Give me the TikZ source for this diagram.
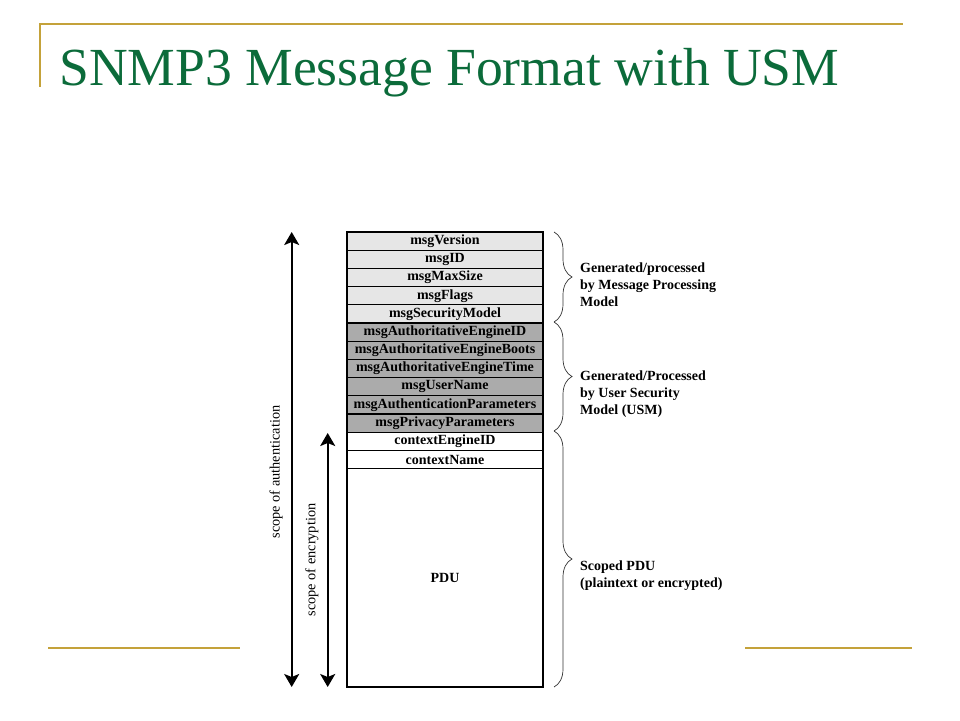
\documentclass[tikz,border=0pt]{standalone}
\usepackage{fontspec}
\setmainfont{Liberation Serif}
\usetikzlibrary{arrows.meta,decorations.pathreplacing}
\definecolor{gold}{HTML}{C4A23A}
\definecolor{titlegreen}{HTML}{0B6B3A}
\definecolor{lightg}{HTML}{E6E6E6}
\definecolor{darkg}{HTML}{ABABAB}
\tikzset{
  rowbox/.style={draw, line width=1.3pt, minimum width=196pt, minimum height=18.2pt, inner sep=0pt, outer sep=0pt, anchor=north, font=\bfseries\fontsize{14}{14}\selectfont},
  goldline/.style={draw=gold, line width=2pt},
  scopearrow/.style={line width=2pt, {Stealth[length=13pt,width=15pt,inset=3pt]}-{Stealth[length=13pt,width=15pt,inset=3pt]}},
  bracestyle/.style={decorate, decoration={brace, amplitude=18pt}, line width=0.7pt, draw=black!80},
  sidetext/.style={anchor=west, inner sep=0pt, align=left, font=\bfseries\fontsize{14}{17}\selectfont},
  scopetext/.style={rotate=90, inner sep=0pt, font=\fontsize{14.3}{14.3}\selectfont}
}
\begin{document}
\begin{tikzpicture}[x=1pt, y=-1pt]
\useasboundingbox (0,0) rectangle (960,720);
% decoration lines
\draw[goldline] (39.5,24) -- (903,24);
\draw[goldline] (39.5,23) -- (39.5,87);
\draw[goldline] (48,648) -- (240,648);
\draw[goldline] (745,648) -- (912,648);
% title
\node[anchor=base west, inner sep=0pt, text=titlegreen, font=\fontsize{53.6}{54}\selectfont] (title) at (59,85) {SNMP3 Message Format with USM};
% rows
\node[rowbox, fill=lightg] (r1) at (445,232) {msgVersion};
\node[rowbox, fill=lightg] (r2) at (r1.south) {msgID};
\node[rowbox, fill=lightg] (r3) at (r2.south) {msgMaxSize};
\node[rowbox, fill=lightg] (r4) at (r3.south) {msgFlags};
\node[rowbox, fill=lightg] (r5) at (r4.south) {msgSecurityModel};
\node[rowbox, fill=darkg] (r6) at (r5.south) {msgAuthoritativeEngineID};
\node[rowbox, fill=darkg] (r7) at (r6.south) {msgAuthoritativeEngineBoots};
\node[rowbox, fill=darkg] (r8) at (r7.south) {msgAuthoritativeEngineTime};
\node[rowbox, fill=darkg] (r9) at (r8.south) {msgUserName};
\node[rowbox, fill=darkg] (r10) at (r9.south) {msgAuthenticationParameters};
\node[rowbox, fill=darkg] (r11) at (r10.south) {msgPrivacyParameters};
\node[rowbox, fill=white] (r12) at (r11.south) {contextEngineID};
\node[rowbox, fill=white] (r13) at (r12.south) {contextName};
\node[rowbox, fill=white, minimum height=218pt] (pdu) at (r13.south) {PDU};
\draw[line width=2pt] (r1.north west) rectangle (pdu.south east);
% scope arrows
\coordinate (authtop) at (291.7,232);
\coordinate (authbot) at (291.7,687);
\coordinate (enctop) at (327.7,433);
\coordinate (encbot) at (327.7,687);
\draw[scopearrow] (authtop) -- (authbot);
\draw[scopearrow] (enctop) -- (encbot);
\node[scopetext] (authlbl) at (276,472) {scope of authentication};
\node[scopetext] (enclbl) at (312,560) {scope of encryption};
% braces
\coordinate (b1t) at (554,232);
\coordinate (b1b) at (554,322);
\coordinate (b2t) at (554,322);
\coordinate (b2b) at (554,431);
\coordinate (b3t) at (554,431);
\coordinate (b3b) at (554,687);
\draw[bracestyle] (b1t) -- (b1b);
\draw[bracestyle] (b2t) -- (b2b);
\draw[bracestyle] (b3t) -- (b3b);
\node[sidetext] (t1) at (580,285) {Generated/processed\\by Message Processing\\Model};
\node[sidetext] (t2) at (580,394) {Generated/Processed\\by User Security\\Model (USM)};
\node[sidetext] (t3) at (580,575.5) {Scoped PDU\\(plaintext or encrypted)};
\end{tikzpicture}
\end{document}
